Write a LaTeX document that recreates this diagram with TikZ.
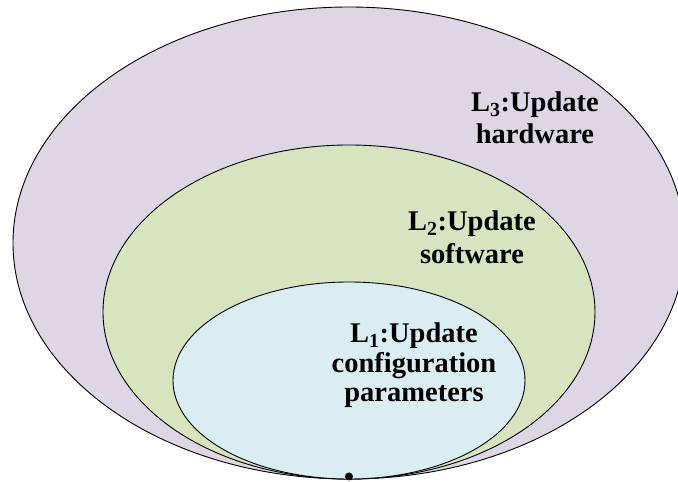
\documentclass[tikz,border=0pt]{standalone}
\usepackage{fontspec}
\setmainfont{Liberation Serif}
\definecolor{outerc}{HTML}{DCD6E5}
\definecolor{midc}{HTML}{D8E3BF}
\definecolor{innerc}{HTML}{DAEDF3}
\begin{document}
\begin{tikzpicture}[x=1pt,y=1pt,
  ring/.style={draw=black,line width=0.9pt},
  lab/.style={font=\fontsize{28.5}{32}\selectfont\bfseries,align=center,anchor=base,inner sep=0pt}]
\useasboundingbox (0,0) rectangle (678,482);
\clip (0,0) rectangle (678,482);
\fill[white] (0,0) rectangle (678,482);
\draw[ring,fill=outerc] (349,239) ellipse [x radius=336, y radius=236];
\draw[ring,fill=midc] (349,170) ellipse [x radius=246, y radius=167];
\draw[ring,fill=innerc] (349,101.5) ellipse [x radius=176, y radius=98.5];
\node[lab] (l3) at (535,338) {L\textsubscript{3}:Update\\hardware};
\node[lab,font=\fontsize{28.5}{33}\selectfont\bfseries] (l2) at (472,218) {L\textsubscript{2}:Update\\software};
\node[lab,font=\fontsize{28.5}{29.5}\selectfont\bfseries] (l1) at (414,80) {L\textsubscript{1}:Update\\configuration\\parameters};
\fill[black] (349,5.5) circle (4);
\end{tikzpicture}
\end{document}
